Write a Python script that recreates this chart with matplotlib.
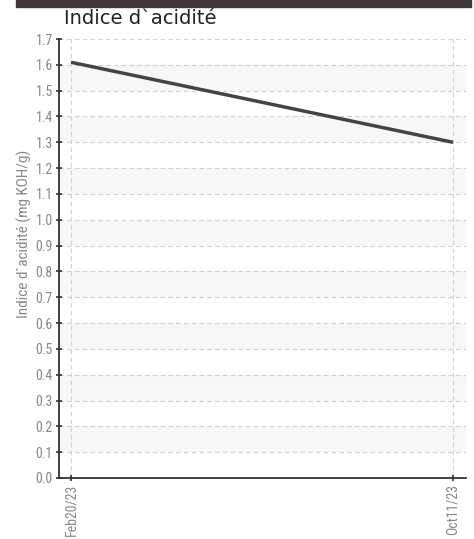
import matplotlib
matplotlib.use("Agg")
import matplotlib.pyplot as plt
import matplotlib.dates as mdates
from matplotlib.patches import Rectangle
from datetime import datetime

# données
dates = [datetime(2023, 2, 20), datetime(2023, 10, 11)]
values = [1.61, 1.30]
tick_labels = ["Feb20/23", "Oct11/23"]
y_ticks = [round(0.1 * i, 1) for i in range(18)]

title = "Indice d`acidité"
y_label = "Indice d`acidité (mg KOH/g)"

narrow = ["Roboto Condensed", "Roboto", "DejaVu Sans"]


def main():
    fig = plt.figure(figsize=(4.74, 5.39), dpi=100)
    ax = fig.add_axes([0.1245, 0.1132, 0.8585, 0.8144])

    # bande sombre en haut (morceau d'image de fond)
    fig.patches.append(Rectangle((16 / 474, 1 - 7 / 539), 455 / 474, 7 / 539,
                                 transform=fig.transFigure, color="#3f3838",
                                 zorder=0))

    # bandes alternées
    for i in range(1, 17, 2):
        ax.axhspan(y_ticks[i], y_ticks[i + 1], color="#f7f7f7", zorder=0, lw=0)

    x = mdates.date2num(dates)
    ax.plot(x, values, color="#444444", lw=2.5, solid_capstyle="butt", zorder=3)

    ax.set_ylim(0, 1.7)
    ax.set_xlim(x[0] - 7.3, x[1] + 7.9)
    ax.set_yticks(y_ticks)
    ax.set_yticklabels([f"{v:.1f}" for v in y_ticks])
    ax.set_xticks(x)
    ax.set_xticklabels(tick_labels, rotation=90)

    for lab in ax.get_xticklabels() + ax.get_yticklabels():
        lab.set_family(narrow)
        lab.set_fontsize(10)
        lab.set_color("#888888")

    ax.tick_params(direction="inout", length=5, width=1.2, color="#333333", pad=2)
    ax.tick_params(axis="x", pad=1.5)
    ax.grid(True, color="#d0d0d0", linestyle=(0, (4, 3)), lw=0.8, zorder=1)
    ax.set_axisbelow(True)

    for side in ["top", "right"]:
        ax.spines[side].set_visible(False)
    for side in ["left", "bottom"]:
        ax.spines[side].set_color("#333333")
        ax.spines[side].set_linewidth(1.3)

    ax.set_ylabel(y_label, family=narrow, fontsize=11, color="#888888")
    ax.yaxis.set_label_coords(-0.066, 0.557)

    fig.text(64 / 474, 1 - 24 / 539, title, fontsize=14, color="#222222",
             family="DejaVu Sans", va="baseline")

    fig.savefig("out.png", dpi=100)


if __name__ == "__main__":
    main()
